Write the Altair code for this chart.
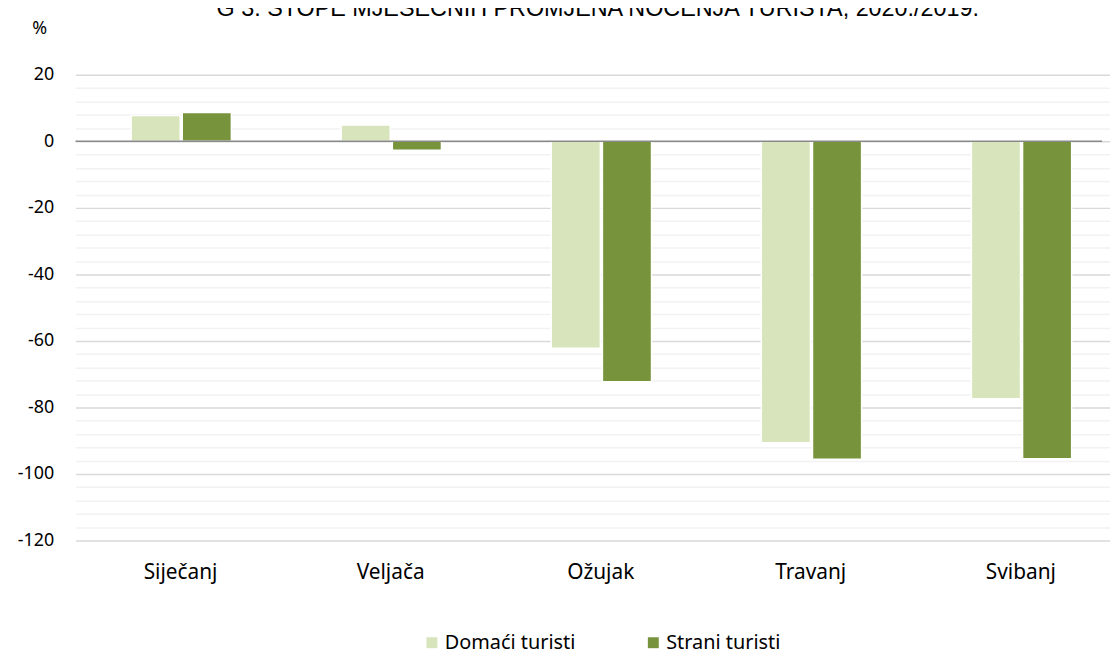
import altair as alt
import pandas as pd

months = ["Siječanj", "Veljača", "Ožujak", "Travanj", "Svibanj"]
series = ["Domaći turisti", "Strani turisti"]
domaci = [7.8, 4.9, -62.2, -90.6, -77.4]
strani = [8.7, -2.7, -72.3, -95.6, -95.4]
y_ticks = list(range(-120, 21, 4))
title_text = "G 3. STOPE MJESEČNIH PROMJENA NOĆENJA TURISTA, 2020./2019."
colors = ["#d8e4bc", "#77933c"]

rows = []
for m, d, s in zip(months, domaci, strani):
    rows.append({"month": m, "series": series[0], "value": d})
    rows.append({"month": m, "series": series[1], "value": s})
df = pd.DataFrame(rows)

FONT = "Noto Sans"

bars = alt.Chart(df).mark_bar(stroke="white", strokeWidth=1.5).encode(
    x=alt.X("month:N", sort=months, title=None,
            scale=alt.Scale(paddingInner=0, paddingOuter=0, range=[0, 1058]),
            axis=alt.Axis(labelAngle=0, ticks=False, domain=False, grid=False,
                          labelFontSize=21, labelFont=FONT, labelColor="#000000",
                          labelPadding=21)),
    xOffset=alt.XOffset("series:N", sort=series,
                        scale=alt.Scale(paddingInner=0.04, paddingOuter=0, range=[56, 157])),
    y=alt.Y("value:Q", title=None,
            scale=alt.Scale(domain=[-120, 20], nice=False, zero=False),
            axis=alt.Axis(values=y_ticks, tickCount=len(y_ticks), ticks=False, domain=False,
                          labelExpr="datum.value % 20 === 0 ? replace(datum.label, '\u2212', '-') : ''",
                          gridColor={"condition": {"test": "datum.value % 20 === 0", "value": "#d9d9d9"}, "value": "#f2f2f2"},
                          gridWidth=1.5, labelOverlap=False,
                          labelFontSize=18, labelFont=FONT, labelColor="#000000",
                          labelPadding=22)),
    color=alt.Color("series:N", sort=series,
                    scale=alt.Scale(domain=series, range=colors),
                    legend=alt.Legend(title=None, orient="none", direction="horizontal",
                                      legendX=349, legendY=562, symbolType="square",
                                      symbolSize=121, symbolStrokeWidth=0, padding=0,
                                      labelFontSize=20, labelFont=FONT, labelColor="#000000",
                                      columnPadding=68, labelOffset=3)),
)

zero = alt.Chart(pd.DataFrame({"z": [0]})).mark_rule(color="#898989", strokeWidth=1.5).encode(
    y=alt.Y("z:Q")
)

title = alt.Chart(pd.DataFrame({"t": [title_text]})).mark_text(
    font="Liberation Sans", fontSize=23.5, baseline="alphabetic", align="center", color="#000000"
).encode(text="t:N", x=alt.value(526), y=alt.value(-59))

pct = alt.Chart(pd.DataFrame({"t": ["%"]})).mark_text(
    font=FONT, fontSize=18, baseline="middle", align="center", color="#000000"
).encode(text="t:N", x=alt.value(-36), y=alt.value(-46))

chart = alt.layer(bars, zero, title, pct).properties(
    width=1034, height=469,
    autosize=alt.AutoSizeParams(type="none"),
    padding={"left": 68, "top": 65, "right": 8, "bottom": 107},
).configure_view(stroke=None)

chart.save("out.html", embed_options={"renderer": "svg", "actions": False})
